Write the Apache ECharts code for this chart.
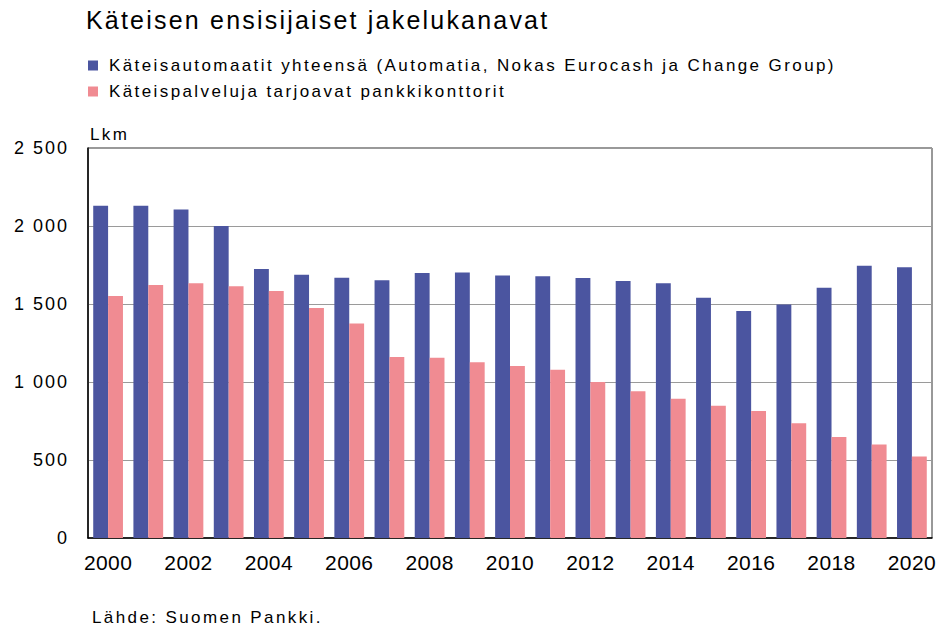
<!DOCTYPE html>
<html>
<head>
<meta charset="utf-8">
<script src="https://cdn.jsdelivr.net/npm/echarts@6/dist/echarts.min.js"></script>
<style>
  html, body { margin: 0; padding: 0; background: #fff; }
  #chart { width: 940px; height: 628px; }
  /* the reference text is spaced out wider than plain Arial */
  #chart svg text[style*="25px"] { letter-spacing: 2.2px; }
  #chart svg text[style*="17px"] { letter-spacing: 2.4px; }
  #chart svg text[style*="18px"] { letter-spacing: 2px; }
  #chart svg text[style*="21px"] { letter-spacing: 0.4px; }
</style>
</head>
<body>
<div id="chart"></div>
<script>
var chartDom = document.getElementById("chart");
var myChart = echarts.init(chartDom, null, { renderer: "svg" });
var option;

const years = ["2000", "2001", "2002", "2003", "2004", "2005", "2006", "2007", "2008", "2009", "2010",
  "2011", "2012", "2013", "2014", "2015", "2016", "2017", "2018", "2019", "2020"];
// Käteisautomaatit yhteensä
const atms = [2130, 2130, 2105, 2000, 1725, 1688, 1668, 1652, 1698, 1702, 1682,
  1678, 1667, 1648, 1633, 1540, 1455, 1497, 1604, 1745, 1736];
// Käteispalveluja tarjoavat pankkikonttorit
const branches = [1552, 1622, 1633, 1613, 1583, 1475, 1375, 1160, 1155, 1127, 1103,
  1078, 1000, 940, 892, 847, 814, 735, 648, 600, 522];
const yTicks = [0, 500, 1000, 1500, 2000, 2500];

const FONT = "Liberation Sans";

option = {
  animation: false,
  textStyle: { fontFamily: FONT, color: "#000" },
  title: {
    text: "Käteisen ensisijaiset jakelukanavat",
    left: 86,
    top: 7,
    padding: 0,
    textStyle: { fontSize: 25, fontWeight: "normal", color: "#000", fontFamily: FONT }
  },
  legend: {
    orient: "vertical",
    left: 88,
    top: 57,
    padding: 0,
    itemGap: 9,
    itemWidth: 10,
    itemHeight: 10,
    icon: "rect",
    textStyle: { fontSize: 17, color: "#000", fontFamily: FONT, padding: [0, 0, 0, 6] },
    data: [
      "Käteisautomaatit yhteensä (Automatia, Nokas Eurocash ja Change Group)",
      "Käteispalveluja tarjoavat pankkikonttorit"
    ]
  },
  grid: {
    left: 88,
    right: 8,
    top: 148,
    bottom: 90,
    show: true,
    borderColor: "#333",
    borderWidth: 1,
    backgroundColor: "transparent"
  },
  xAxis: {
    type: "category",
    data: years,
    axisLine: { show: true, lineStyle: { color: "#000", width: 1.5 } },
    axisTick: { show: false },
    axisLabel: {
      interval: 1,
      margin: 14,
      fontSize: 21,
      color: "#000",
      fontFamily: FONT
    }
  },
  yAxis: {
    type: "value",
    min: yTicks[0],
    max: yTicks[yTicks.length - 1],
    interval: 500,
    name: "Lkm",
    nameLocation: "end",
    nameGap: 5,
    nameTextStyle: {
      fontSize: 17,
      color: "#000",
      fontFamily: FONT,
      align: "left",
      verticalAlign: "bottom",
      padding: [0, 0, 0, 2]
    },
    axisLine: { show: true, lineStyle: { color: "#000", width: 1.5 } },
    axisTick: { show: false },
    splitLine: { show: true, lineStyle: { color: "#9a9a9a", width: 1.2 } },
    axisLabel: {
      margin: 19,
      fontSize: 18,
      color: "#000",
      fontFamily: FONT,
      formatter: function (v) {
        return String(v).replace(/\B(?=(\d{3})+(?!\d))/g, " ");
      }
    }
  },
  series: [
    {
      name: "Käteisautomaatit yhteensä (Automatia, Nokas Eurocash ja Change Group)",
      type: "bar",
      data: atms,
      barGap: "0%",
      barCategoryGap: "26%",
      itemStyle: { color: "#4b55a0" }
    },
    {
      name: "Käteispalveluja tarjoavat pankkikonttorit",
      type: "bar",
      data: branches,
      barGap: "0%",
      barCategoryGap: "26%",
      itemStyle: { color: "#f08b92" }
    }
  ],
  graphic: [
    {
      type: "text",
      left: 92,
      top: 609,
      style: {
        text: "Lähde: Suomen Pankki.",
        fontSize: 17,
        fontFamily: FONT,
        fill: "#000"
      }
    }
  ]
};

option && myChart.setOption(option);
</script>
</body>
</html>
